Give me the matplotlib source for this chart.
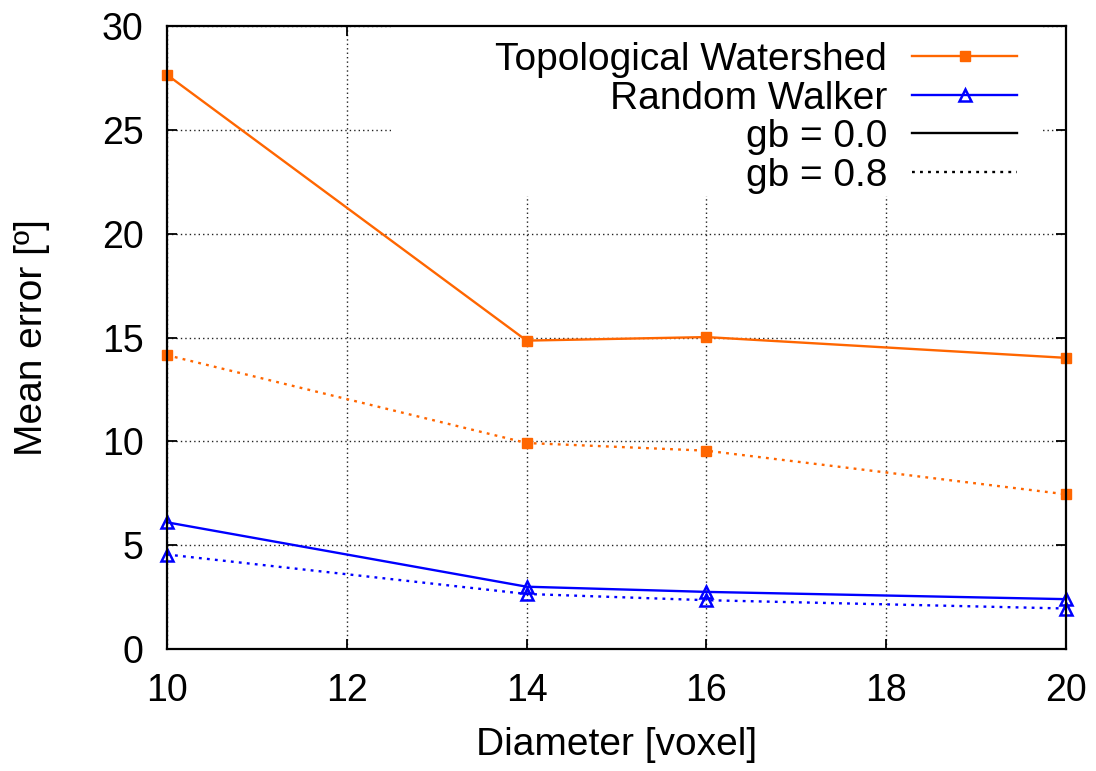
import matplotlib
matplotlib.use('Agg')
import matplotlib.pyplot as plt
from matplotlib.lines import Line2D
from matplotlib.patches import Rectangle

# data
diameter = [10, 14, 16, 20]
tw_gb00 = [27.65, 14.85, 15.02, 14.02]
tw_gb08 = [14.15, 9.92, 9.55, 7.45]
rw_gb00 = [6.1, 3.0, 2.75, 2.4]
rw_gb08 = [4.55, 2.65, 2.35, 1.95]

x_ticks = [10, 12, 14, 16, 18, 20]
y_ticks = [0, 5, 10, 15, 20, 25, 30]
labels = ['Topological Watershed', 'Random Walker', 'gb = 0.0', 'gb = 0.8']

orange = '#ff6600'
blue = '#0000ff'
dots = (0, (1.2, 2.2))
fs = 28

plt.rcParams['font.family'] = ['Liberation Sans', 'DejaVu Sans']

W, H = 1096, 771
L, R, T, B = 167, 1066, 26, 649
fig = plt.figure(figsize=(W / 100, H / 100), dpi=100)
ax = fig.add_axes([L / W, 1 - B / H, (R - L) / W, (B - T) / H])

sq = dict(marker='s', ms=7.5, mec=orange)
tri = dict(marker='^', ms=9, mfc='none', mec=blue, mew=1.8)
ax.plot(diameter, tw_gb00, color=orange, lw=1.7, clip_on=False, zorder=3, **sq)
ax.plot(diameter, tw_gb08, color=orange, lw=1.7, ls=dots, clip_on=False, zorder=3, **sq)
ax.plot(diameter, rw_gb00, color=blue, lw=1.7, clip_on=False, zorder=3, **tri)
ax.plot(diameter, rw_gb08, color=blue, lw=1.7, ls=dots, clip_on=False, zorder=3, **tri)

ax.set_xlim(10, 20)
ax.set_ylim(0, 30)
ax.set_xticks(x_ticks)
ax.set_yticks(y_ticks)
ax.tick_params(direction='in', length=7, width=1.3, labelsize=27, top=True, right=True, pad=17)
ax.grid(True, color='#222222', ls=(0, (1, 2.2)), lw=1)
for s in ax.spines.values():
    s.set_linewidth(1.6)
    s.set_zorder(4)

ax.set_xlabel('Diameter [voxel]', fontsize=fs)
ax.set_ylabel('Mean error [º]', fontsize=fs)
ax.xaxis.set_label_coords(0.5, (B - 727) / (B - T))
ax.yaxis.set_label_coords((50 - L) / (R - L), 0.5)

# gnuplot key area hides the grid behind it
ax.add_patch(Rectangle(((391 - L) / (R - L), (B - 196) / (B - T)), (1040 - 391) / (R - L), (196 - T) / (B - T),
                       transform=ax.transAxes, facecolor='white', edgecolor='none', zorder=2))

handles = [
    Line2D([], [], color=orange, lw=1.7, **sq),
    Line2D([], [], color=blue, lw=1.7, **tri),
    Line2D([], [], color='black', lw=1.7),
    Line2D([], [], color='black', lw=1.7, ls=dots),
]
leg = ax.legend(handles, labels, loc='upper right', bbox_to_anchor=((1017 - L) / (R - L), 1 - (42 - T) / (B - T)),
                markerfirst=False, fontsize=fs, frameon=False,
                handlelength=2.7, labelspacing=0.065, borderpad=0, borderaxespad=0,
                handletextpad=0.64)
leg.set_zorder(5)

fig.savefig('out.png', dpi=100)
